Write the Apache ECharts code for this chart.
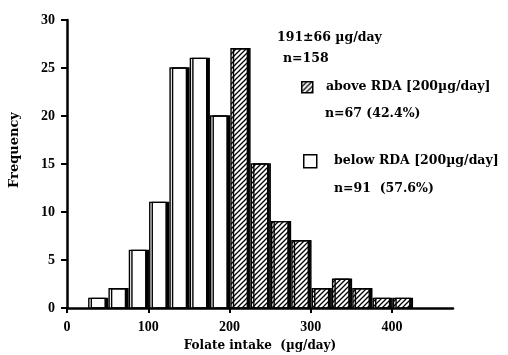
<!DOCTYPE html>
<html>
<head>
<meta charset="utf-8">
<script src="https://cdn.jsdelivr.net/npm/echarts@6/dist/echarts.min.js"></script>
<style>
    html, body { margin: 0; padding: 0; background: #fff; }
    #histChart { width: 508px; height: 355px; }
</style>
</head>
<body>
<div id="histChart"></div>
<script>
// 直方图数据 (bin width 25 µg/day)
var binWidth = 25;
var belowBins = [25, 50, 75, 100, 125, 150, 175];
var belowCounts = [1, 2, 6, 11, 25, 26, 20];
var aboveBins = [200, 225, 250, 275, 300, 325, 350, 375, 400];
var aboveCounts = [27, 15, 9, 7, 2, 3, 2, 1, 1];
var xTicks = [0, 100, 200, 300, 400];

(function () {
    var dom = document.getElementById("histChart");
    var myChart = echarts.init(dom);
    var font = "'Liberation Serif', serif";
    var wideFont = "'DejaVu Serif', serif";

    // 斜线填充
    var hatch = document.createElement('canvas');
    hatch.width = 5;
    hatch.height = 5;
    var ctx = hatch.getContext('2d');
    ctx.fillStyle = '#fff';
    ctx.fillRect(0, 0, 5, 5);
    ctx.strokeStyle = '#000';
    ctx.lineWidth = 1.3;
    ctx.beginPath();
    ctx.moveTo(-1, 6); ctx.lineTo(6, -1);
    ctx.moveTo(-1, 1); ctx.lineTo(1, -1);
    ctx.moveTo(4, 6); ctx.lineTo(6, 4);
    ctx.stroke();
    var hatchFill = { image: hatch, repeat: 'repeat' };

    function toData(bins, counts) {
        return bins.map(function (b, i) { return [b, b + binWidth, counts[i]]; });
    }

    function makeRender(fill) {
        return function (params, api) {
            var p0 = api.coord([api.value(0), 0]);
            var p1 = api.coord([api.value(1), api.value(2)]);
            return {
                type: 'rect',
                shape: {
                    x: p0[0] + 1.5,
                    y: p1[1],
                    width: p1[0] - p0[0] - 4,
                    height: p0[1] - p1[1]
                },
                style: {
                    fill: fill,
                    stroke: '#000',
                    lineWidth: 1.4,
                    shadowColor: '#000',
                    shadowOffsetX: 2.5,
                    shadowOffsetY: 0,
                    shadowBlur: 0
                }
            };
        };
    }

    var textStyle = { fontFamily: wideFont, fontWeight: 'bold', fontSize: 12.5, fill: '#000', verticalAlign: 'middle' };
    function label(x, y, text) {
        return { type: 'text', x: x, y: y, style: Object.assign({ text: text }, textStyle) };
    }

    var option = {
        backgroundColor: '#fff',
        animation: false,
        grid: {
            left: 67,
            top: 20,
            right: 55,
            bottom: 47,
            outerBoundsMode: 'none'
        },
        xAxis: {
            type: 'value',
            min: 0,
            max: 475,
            interval: 100,
            name: 'Folate intake  (µg/day)',
            nameLocation: 'middle',
            nameGap: 32,
            nameTextStyle: { fontFamily: wideFont, fontWeight: 'bold', fontSize: 12, color: '#000' },
            axisLine: { lineStyle: { color: '#000', width: 2.5 } },
            axisTick: { customValues: xTicks, length: 5, lineStyle: { color: '#000', width: 2 } },
            axisLabel: { customValues: xTicks, margin: 12, fontFamily: font, fontWeight: 'bold', fontSize: 14, color: '#000' },
            splitLine: { show: false }
        },
        yAxis: {
            type: 'value',
            min: 0,
            max: 30,
            interval: 5,
            axisLine: { show: true, lineStyle: { color: '#000', width: 2.5 } },
            axisTick: { show: true, length: 6, lineStyle: { color: '#000', width: 2 } },
            axisLabel: { margin: 12, fontFamily: font, fontWeight: 'bold', fontSize: 14, color: '#000' },
            splitLine: { show: false }
        },
        graphic: [
            {
                type: 'text',
                x: 15,
                y: 150,
                rotation: Math.PI / 2,
                style: Object.assign({}, textStyle, { text: 'Frequency', align: 'center', fontSize: 13 })
            },
            label(277, 38, '191±66 µg/day'),
            label(283, 59, 'n=158'),
            { type: 'rect', left: 301, top: 81, shape: { width: 11, height: 11 },
              style: { fill: hatchFill, stroke: '#000', lineWidth: 1.5 } },
            label(326, 87, 'above RDA [200µg/day]'),
            label(325, 114, 'n=67 (42.4%)'),
            { type: 'rect', left: 303, top: 154, shape: { width: 13, height: 13 },
              style: { fill: '#fff', stroke: '#000', lineWidth: 1.5 } },
            label(334, 161, 'below RDA [200µg/day]'),
            label(334, 189, 'n=91  (57.6%)')
        ],
        series: [
            {
                name: 'below RDA',
                type: 'custom',
                renderItem: makeRender('#fff'),
                encode: { x: [0, 1], y: 2 },
                data: toData(belowBins, belowCounts)
            },
            {
                name: 'above RDA',
                type: 'custom',
                renderItem: makeRender(hatchFill),
                encode: { x: [0, 1], y: 2 },
                data: toData(aboveBins, aboveCounts)
            }
        ]
    };

    if (option && typeof option === 'object') {
        myChart.setOption(option);
    }

    window.addEventListener("resize", function () {
        myChart.resize();
    });
})();
</script>
</body>
</html>
